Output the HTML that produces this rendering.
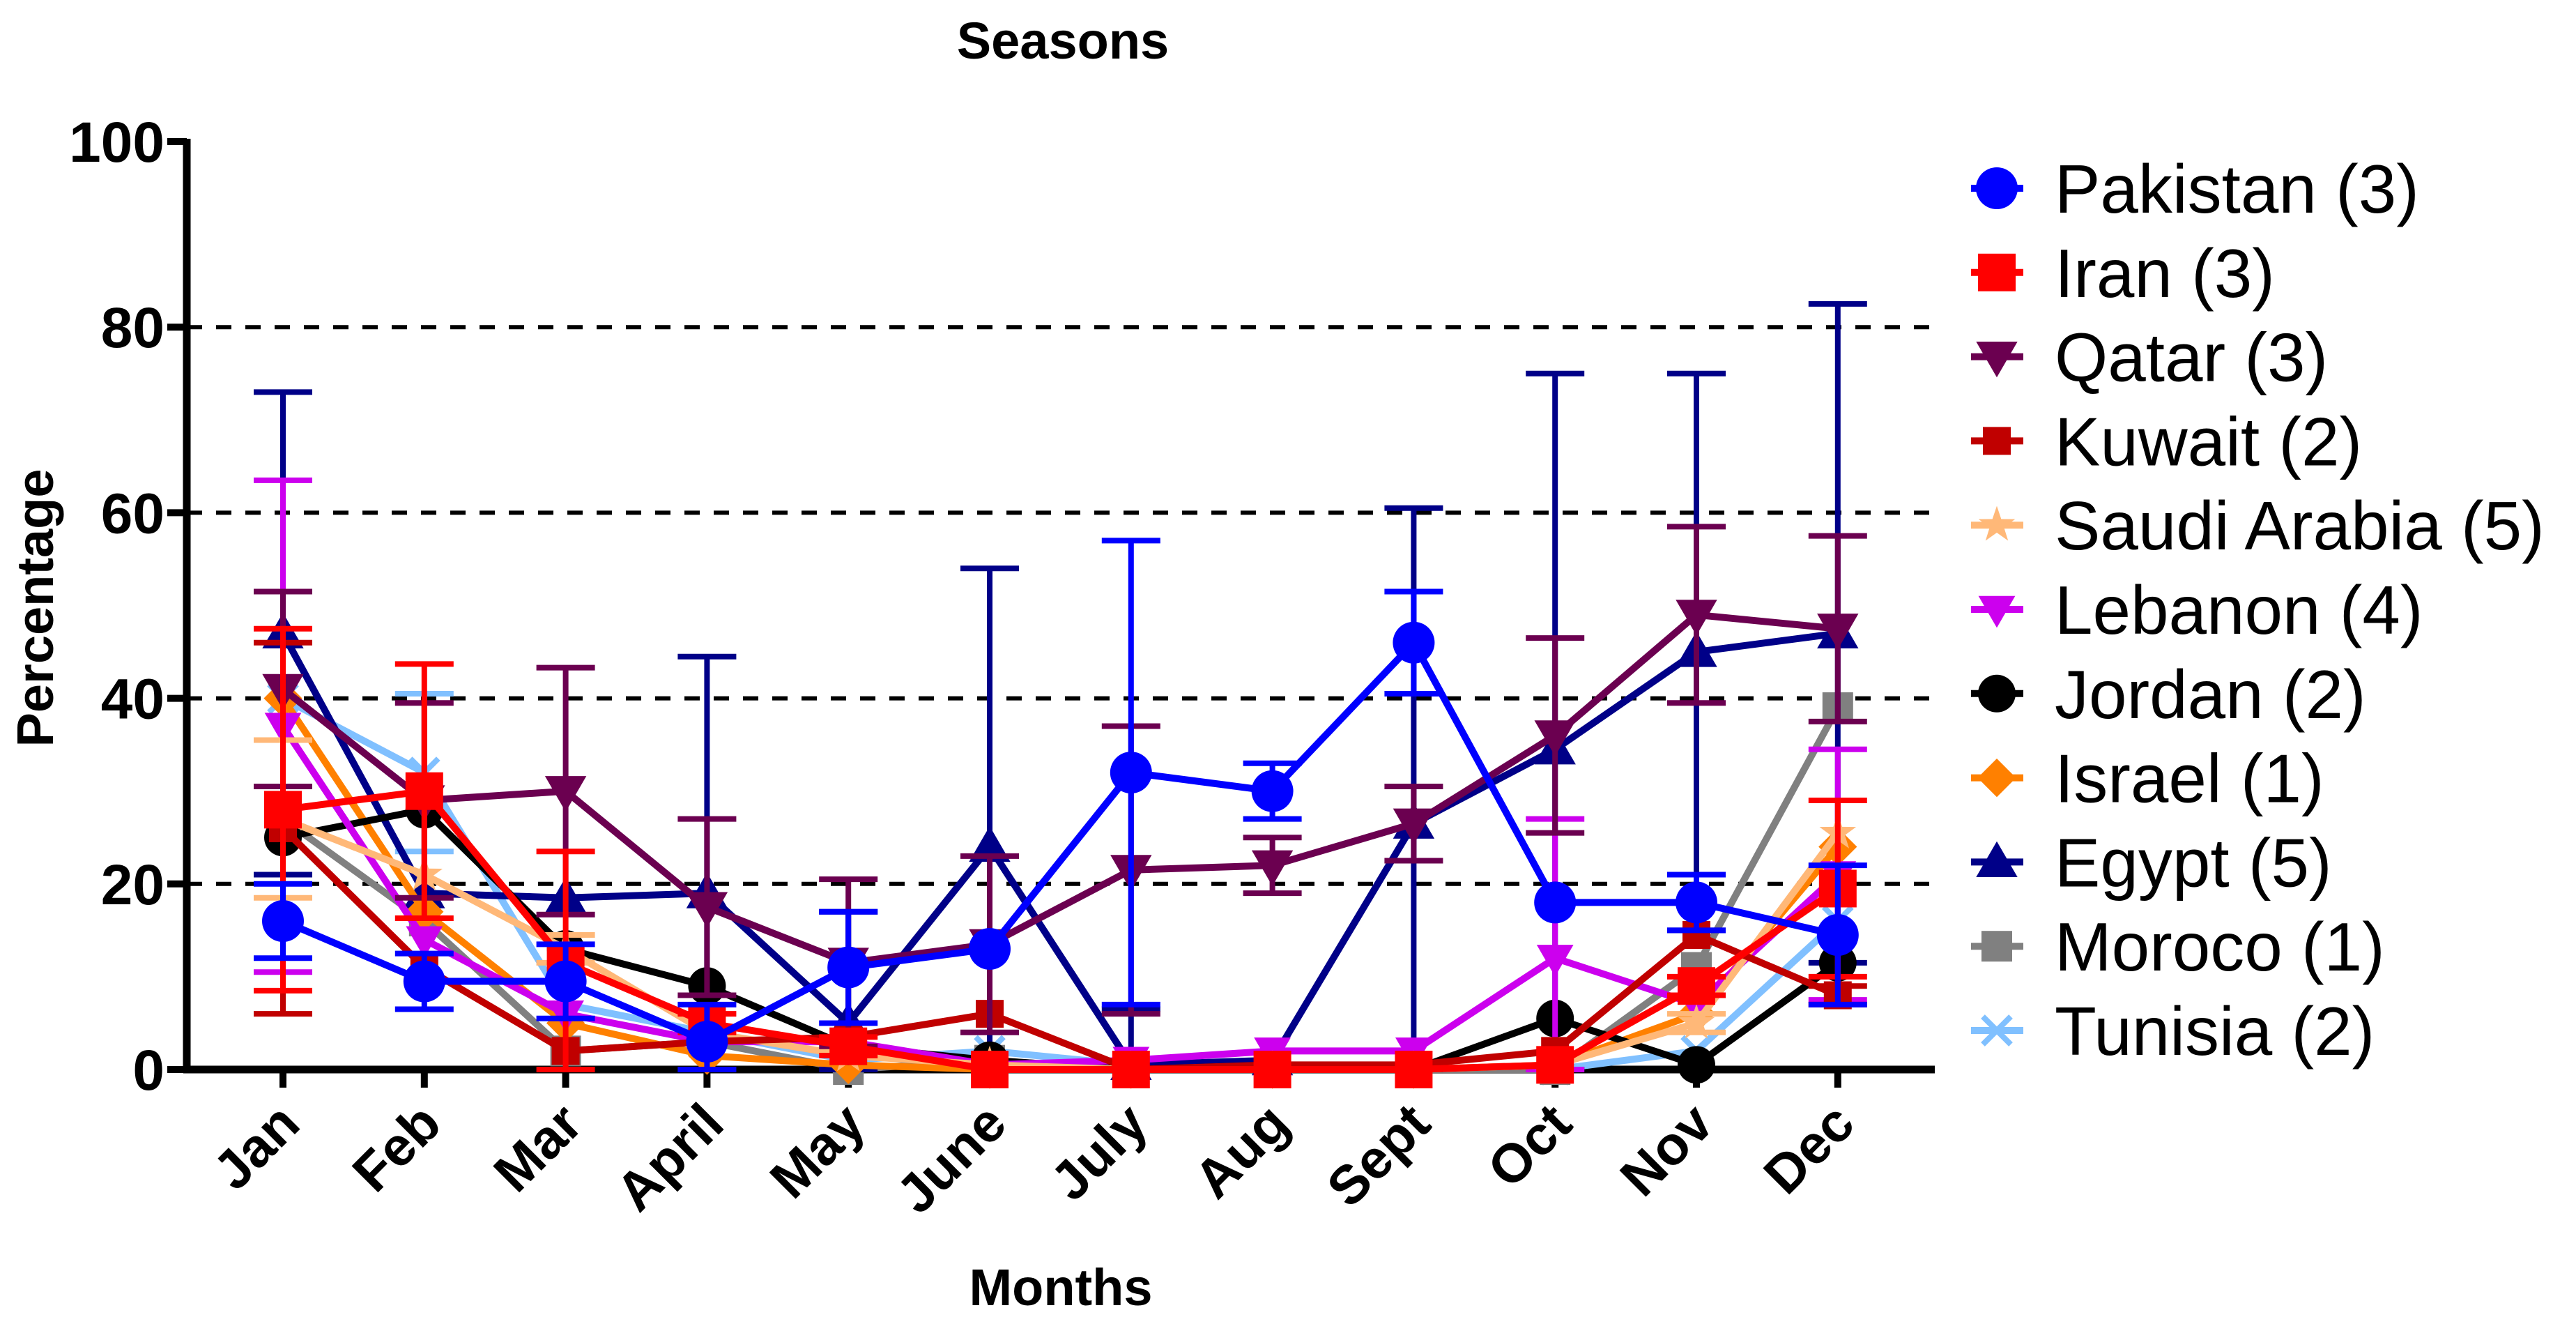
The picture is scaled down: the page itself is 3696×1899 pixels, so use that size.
<!DOCTYPE html>
<html><head><meta charset="utf-8"><style>html,body{margin:0;padding:0;background:#fff}svg{display:block}</style></head>
<body>
<svg id="chart" width="3696" height="1899" viewBox="0 0 3696 1899" xmlns="http://www.w3.org/2000/svg" font-family="Liberation Sans, sans-serif">
<text x="1525" y="84" font-size="74" font-weight="bold" text-anchor="middle">Seasons</text>
<text x="1522" y="1872" font-size="74" font-weight="bold" text-anchor="middle">Months</text>
<text transform="translate(76,872) rotate(-90)" font-size="74" font-weight="bold" text-anchor="middle">Percentage</text>
<g id="grid"></g><g id="axes"></g><g id="series"></g><g id="legend"></g>
</svg>
<script>
const months = ["Jan","Feb","Mar","April","May","June","July","Aug","Sept","Oct","Nov","Dec"];
const yTicks = [0,20,40,60,80,100];
const gridValues = [20,40,60,80];
const names = ["Pakistan (3)","Iran (3)","Qatar (3)","Kuwait (2)","Saudi Arabia (5)","Lebanon (4)","Jordan (2)","Israel (1)","Egypt (5)","Moroco (1)","Tunisia (2)"];
const pakistan = [16,9.5,9.5,3,11,13,32,30,46,18,18,14.5];
const pakistanErr = [4,3,4,4,6,0,25,3,5.5,0,3,7.5];
const iran = [28,30,11.5,5,2.5,0,0,0,0,0.5,9,19.5];
const iranErr = [19.5,13.7,12,1,1,0,0,0,0,0,1,9.5];
const qatar = [41,29,30,17.5,11.5,13.5,21.5,22,26.5,36,49,47.5];
const qatarErr = [10.5,10.5,13.3,9.5,9,9.5,15.5,3,4,10.5,9.5,10];
const kuwait = [26,11,2,3,3.5,6,0,0.5,0.5,2,14.5,8];
const kuwaitErr = [20,0,0,0,0,0,0,0,0,0,0,1];
const saudi = [27,21,13,4,1.5,0.5,0,0,0,0.5,5,25.5];
const saudiErr = [8.5,0,1.5,0,0,0,0,0,0,0,1,0];
const lebanon = [37,14,6,3,3,0.5,1,2,2,12,7,21];
const lebanonErr = [26.5,0,0,0,0,0,0,0,0,15,0,13.5];
const jordan = [25,28,13,9,2.5,1,0,0.5,0,5.5,0.5,11.5];
const jordanErr = [0,0,0,0,0,0,0,0,0,0,0,0];
const israel = [40,17,5,1.5,0.5,0,0,0,0,0.5,6,24];
const israelErr = [0,0,0,0,0,0,0,0,0,0,0,0];
const egypt = [47,19,18.5,19,5,24,0.5,1,26.5,34.5,45,47];
const egyptErr = [26,0,0,25.5,12,30,6,0,34,40.5,30,35.5];
const moroco = [27,16,2,3,0,1,0,0,0,0,11,39];
const morocoErr = [0,0,0,0,0,0,0,0,0,0,0,0];
const tunisia = [40,32,7,4,1,2,0.5,0,0,0,2,16];
const tunisiaErr = [0,8.5,0,0,0,0,0,0,0,0,0,0];

const NS="http://www.w3.org/2000/svg";
const X0=406, DX=202.8, Y0=1534, Y100=203;
const xs=i=>X0+i*DX;
const ys=v=>Y0-(Y0-Y100)*v/100;
function mk(tag,attrs,parent){const e=document.createElementNS(NS,tag);for(const k in attrs)e.setAttribute(k,attrs[k]);parent.appendChild(e);return e;}
const grid=document.getElementById('grid'),axes=document.getElementById('axes'),ser=document.getElementById('series'),leg=document.getElementById('legend');

gridValues.forEach(v=>{
  const l=mk('line',{x1:268,x2:2776,y1:ys(v),y2:ys(v),stroke:'#000','stroke-width':6,'stroke-dasharray':'22 20'},grid);
  
  
});
const ya=mk('line',{x1:268,x2:268,y1:ys(100)-4,y2:Y0+5,stroke:'#000','stroke-width':11},axes);


const xa=mk('line',{x1:263,x2:2776,y1:Y0,y2:Y0,stroke:'#000','stroke-width':11},axes);


yTicks.forEach(v=>{
  const t=mk('line',{x1:240,x2:268,y1:ys(v),y2:ys(v),stroke:'#000','stroke-width':10},axes);
  
  
  const tx=mk('text',{x:236,y:ys(v)+29,'font-size':82,'font-weight':'bold','text-anchor':'end'},axes);
  tx.textContent=v;
  
  
});
months.forEach((m,i)=>{
  const t=mk('line',{x1:xs(i),x2:xs(i),y1:Y0,y2:Y0+26,stroke:'#000','stroke-width':10},axes);
  
  
  const tx=mk('text',{transform:`translate(${xs(i)+28},${Y0+82}) rotate(-45)`,'font-size':78,'font-weight':'bold','text-anchor':'end'},axes);
  tx.textContent=m;
  
  
});

function marker(shape,x,y,color,s,parent){
  let e;
  if(shape==='circle') e=mk('circle',{cx:x,cy:y,r:s,fill:color},parent);
  else if(shape==='square') e=mk('rect',{x:x-s,y:y-s,width:2*s,height:2*s,fill:color},parent);
  else if(shape==='tdown') e=mk('polygon',{points:`${x-s*1.1},${y-s*0.8} ${x+s*1.1},${y-s*0.8} ${x},${y+s*1.1}`,fill:color},parent);
  else if(shape==='tup') e=mk('polygon',{points:`${x-s*1.1},${y+s*0.8} ${x+s*1.1},${y+s*0.8} ${x},${y-s*1.1}`,fill:color},parent);
  else if(shape==='diamond') e=mk('polygon',{points:`${x},${y-s*1.2} ${x+s*1.2},${y} ${x},${y+s*1.2} ${x-s*1.2},${y}`,fill:color},parent);
  else if(shape==='star'){let p=[];for(let k=0;k<10;k++){const r=k%2?s*0.45:s*1.15,a=-Math.PI/2+k*Math.PI/5;p.push((x+r*Math.cos(a))+','+(y+r*Math.sin(a)));}e=mk('polygon',{points:p.join(' '),fill:color},parent);}
  else if(shape==='x'){e=mk('path',{d:`M${x-s},${y-s}L${x+s},${y+s}M${x-s},${y+s}L${x+s},${y-s}`,stroke:color,'stroke-width':8,fill:'none'},parent);}
  return e;
}
const defs=[
 {key:'pakistan',v:pakistan,e:pakistanErr,c:'#0000FF',m:'circle',s:30},
 {key:'iran',v:iran,e:iranErr,c:'#FF0000',m:'square',s:27},
 {key:'qatar',v:qatar,e:qatarErr,c:'#6B0050',m:'tdown',s:27},
 {key:'kuwait',v:kuwait,e:kuwaitErr,c:'#C00000',m:'square',s:20},
 {key:'saudi-arabia',v:saudi,e:saudiErr,c:'#FFB878',m:'star',s:24},
 {key:'lebanon',v:lebanon,e:lebanonErr,c:'#CC00EE',m:'tdown',s:24},
 {key:'jordan',v:jordan,e:jordanErr,c:'#000000',m:'circle',s:27},
 {key:'israel',v:israel,e:israelErr,c:'#FF8000',m:'diamond',s:23},
 {key:'egypt',v:egypt,e:egyptErr,c:'#000088',m:'tup',s:27},
 {key:'moroco',v:moroco,e:morocoErr,c:'#808080',m:'square',s:22},
 {key:'tunisia',v:tunisia,e:tunisiaErr,c:'#80C0FF',m:'x',s:20}
];
for(let d=defs.length-1;d>=0;d--){
  const S=defs[d];
  const g=mk('g',{},ser);
  
  
  S.v.forEach((v,i)=>{
    const err=S.e[i];
    if(err>0){
      const lo=Math.max(0,v-err),hi=v+err;
      const eb=mk('path',{d:`M${xs(i)},${ys(lo)}L${xs(i)},${ys(hi)}M${xs(i)-42},${ys(hi)}L${xs(i)+42},${ys(hi)}M${xs(i)-42},${ys(lo)}L${xs(i)+42},${ys(lo)}`,stroke:S.c,'stroke-width':8,fill:'none'},g);
      
      
    }
  });
  const pl=mk('polyline',{points:S.v.map((v,i)=>xs(i)+','+ys(v)).join(' '),fill:'none',stroke:S.c,'stroke-width':10,'stroke-linejoin':'round'},g);
  
  
  S.v.forEach((v,i)=>{
    const p=marker(S.m,xs(i),ys(v),S.c,S.s,g);
    
    
  });
}
defs.forEach((S,k)=>{
  const y=270+k*120.8;
  const g=mk('g',{},leg);
  
  
  mk('line',{x1:2828,x2:2903,y1:y,y2:y,stroke:S.c,'stroke-width':10},g);
  marker(S.m,2865,y,S.c,S.s,g);
  const t=mk('text',{x:2948,y:y+35,'font-size':98},g);
  t.textContent=names[k];
});
</script>
</body></html>
